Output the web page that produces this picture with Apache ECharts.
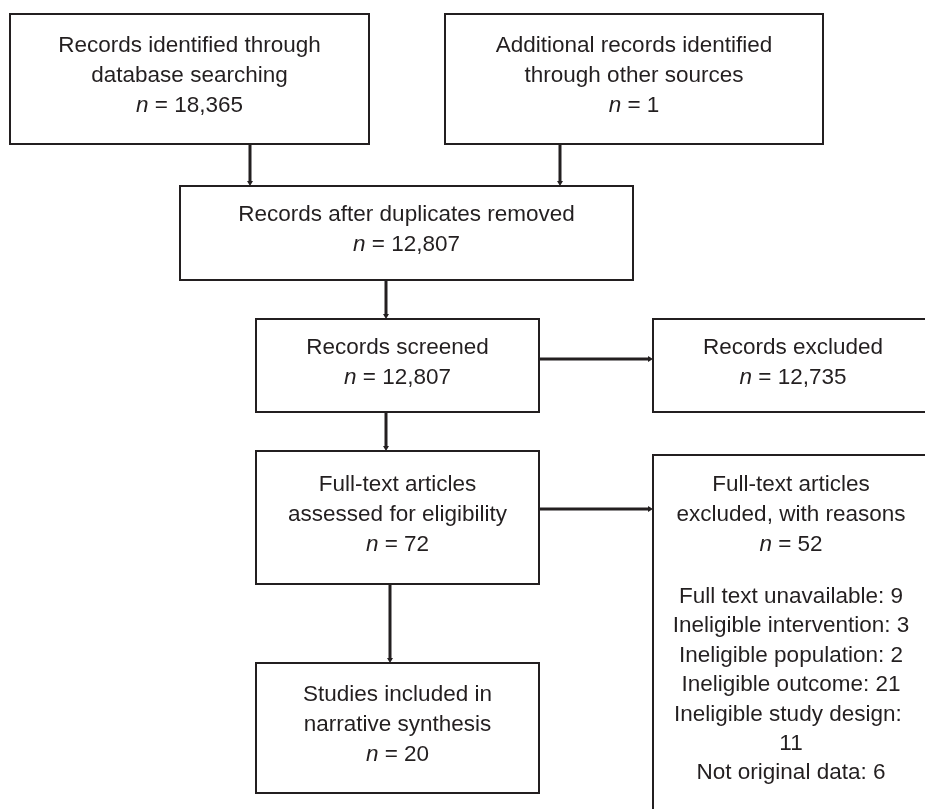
<!DOCTYPE html>
<html>
<head>
<meta charset="utf-8">
<script src="https://cdn.jsdelivr.net/npm/echarts@6/dist/echarts.min.js"></script>
<style>
  html, body { margin: 0; padding: 0; background: #ffffff; }
  #chart { width: 925px; height: 809px; }
</style>
</head>
<body>
<div id="chart"></div>
<script>
// ---- Data ----
const boxTitles = [
  'Records identified through\ndatabase searching',
  'Additional records identified\nthrough other sources',
  'Records after duplicates removed',
  'Records screened',
  'Records excluded',
  'Full-text articles\nassessed for eligibility',
  'Full-text articles\nexcluded, with reasons',
  'Studies included in\nnarrative synthesis'
];
const boxCounts = ['18,365', '1', '12,807', '12,807', '12,735', '72', '52', '20'];
const reasonLabels = [
  'Full text unavailable',
  'Ineligible intervention',
  'Ineligible population',
  'Ineligible outcome',
  'Ineligible study design',
  'Not original data'
];
const reasonCounts = [9, 3, 2, 21, 11, 6];
const reasonBoxIndex = 6;

// ---- Layout (diagram units = pixels of a 925 x 809 sheet) ----
const boxLayout = [
  [10, 14, 369, 144],
  [445, 14, 823, 144],
  [180, 186, 633, 280],
  [256, 319, 539, 412],
  [653, 319, 935, 412],
  [256, 451, 539, 584],
  [653, 455, 935, 820],
  [256, 663, 539, 793]
];
const arrowLayout = [
  [250, 144, 250, 186],
  [560, 144, 560, 186],
  [386, 280, 386, 319],
  [539, 359, 653, 359],
  [386, 412, 386, 451],
  [539, 509, 653, 509],
  [390, 584, 390, 663]
];

const FONT = 'Liberation Sans, Arial, Helvetica, sans-serif';
const INK = '#231f20';
const FS = 22.5;
const LH = 30;

const chart = echarts.init(document.getElementById('chart'), null, { renderer: 'canvas' });

function boxText(i) {
  return boxTitles[i] + '\n{i|n} = ' + boxCounts[i];
}
const reasonText = reasonLabels.map((l, k) => l + ': ' + reasonCounts[k]).join('\n');

const option = {
  backgroundColor: '#ffffff',
  animation: false,
  grid: { left: 0, right: 0, top: 0, bottom: 0 },
  xAxis: { type: 'value', min: 0, max: 925, show: false },
  yAxis: { type: 'value', min: 0, max: 809, inverse: true, show: false },
  series: [
    {
      type: 'custom',
      name: 'arrows',
      coordinateSystem: 'cartesian2d',
      data: arrowLayout,
      renderItem: function (params, api) {
        const p0 = api.coord([api.value(0), api.value(1)]);
        const p1 = api.coord([api.value(2), api.value(3)]);
        const dx = p1[0] - p0[0], dy = p1[1] - p0[1];
        const len = Math.sqrt(dx * dx + dy * dy);
        const ux = dx / len, uy = dy / len;
        const hl = 5, hw = 3;
        const base = [p1[0] - ux * hl, p1[1] - uy * hl];
        return {
          type: 'group',
          children: [
            {
              type: 'line',
              shape: { x1: p0[0], y1: p0[1], x2: base[0], y2: base[1] },
              style: { stroke: INK, lineWidth: 3 }
            },
            {
              type: 'polygon',
              shape: {
                points: [
                  [p1[0], p1[1]],
                  [base[0] - uy * hw, base[1] + ux * hw],
                  [base[0] + uy * hw, base[1] - ux * hw]
                ]
              },
              style: { fill: INK }
            }
          ]
        };
      }
    },
    {
      type: 'custom',
      name: 'boxes',
      coordinateSystem: 'cartesian2d',
      data: boxLayout,
      renderItem: function (params, api) {
        const i = params.dataIndex;
        const a = api.coord([api.value(0), api.value(1)]);
        const b = api.coord([api.value(2), api.value(3)]);
        const w = b[0] - a[0], h = b[1] - a[1];
        const children = [
          {
            type: 'rect',
            shape: { x: a[0], y: a[1], width: w, height: h },
            style: { fill: '#ffffff', stroke: INK, lineWidth: 2 }
          }
        ];
        const rich = { i: { fontStyle: 'italic', fontSize: FS, fontFamily: FONT, lineHeight: LH, fill: INK } };
        if (i === reasonBoxIndex) {
          const cx = a[0] + 138;
          children.push({
            type: 'text',
            style: {
              text: boxText(i), x: cx, y: a[1] + 15,
              align: 'center', verticalAlign: 'top',
              fontSize: FS, fontFamily: FONT, fill: INK, lineHeight: LH, rich: rich
            }
          });
          children.push({
            type: 'text',
            style: {
              text: reasonText, x: cx, y: a[1] + 127,
              align: 'center', verticalAlign: 'top',
              width: 248, overflow: 'break',
              fontSize: FS, fontFamily: FONT, fill: INK, lineHeight: 29.4
            }
          });
        } else {
          const cx = i === 4 ? a[0] + 140 : a[0] + w / 2;
          children.push({
            type: 'text',
            style: {
              text: boxText(i), x: cx, y: a[1] + h / 2 - 3,
              align: 'center', verticalAlign: 'middle',
              fontSize: FS, fontFamily: FONT, fill: INK, lineHeight: LH, rich: rich
            }
          });
        }
        return { type: 'group', children: children };
      }
    }
  ]
};
chart.setOption(option);
</script>
</body>
</html>
